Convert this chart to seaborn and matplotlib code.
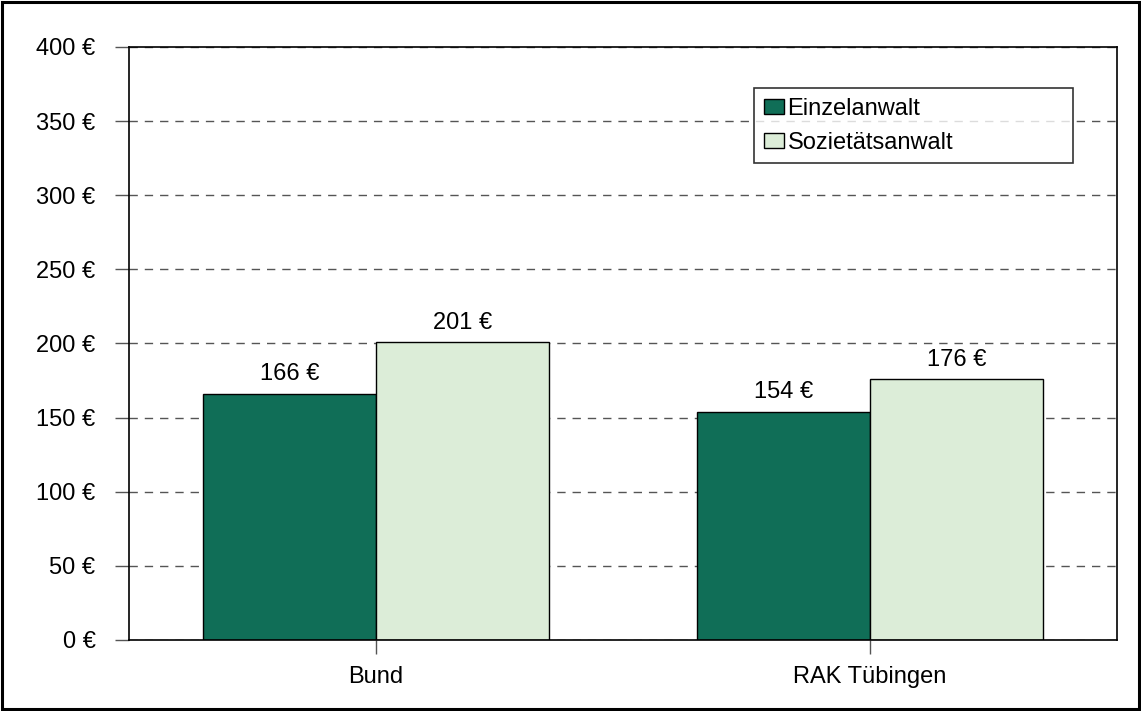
import matplotlib
matplotlib.use("Agg")
import matplotlib.pyplot as plt
import seaborn as sns
import pandas as pd
from matplotlib.ticker import FuncFormatter, MultipleLocator
from matplotlib.patches import Rectangle

categories = ["Bund", "RAK Tübingen"]
series_names = ["Einzelanwalt", "Sozietätsanwalt"]
einzel = [166, 154]
sozietaet = [201, 176]

rows = []
for c, v in zip(categories, einzel):
    rows.append({"Region": c, "Typ": series_names[0], "Wert": v})
for c, v in zip(categories, sozietaet):
    rows.append({"Region": c, "Typ": series_names[1], "Wert": v})
df = pd.DataFrame(rows)

sns.set_style("white")
plt.rcParams['font.family'] = ['Liberation Sans', 'DejaVu Sans']

fig = plt.figure(figsize=(11.41, 7.11), dpi=100)
ax = fig.add_axes([0.113, 0.100, 0.866, 0.834])

palette = {"Einzelanwalt": "#106E57", "Sozietätsanwalt": "#DCEDD8"}
sns.barplot(data=df, x="Region", y="Wert", hue="Typ", palette=palette,
            order=categories, hue_order=series_names, width=0.7,
            edgecolor="black", linewidth=1.0, ax=ax, saturation=1)

fs = 17
for cont in ax.containers:
    ax.bar_label(cont, labels=[f"{int(round(v))} €" for v in cont.datavalues],
                 padding=6, fontsize=fs, color="black")

ax.set_ylim(0, 400)
ax.set_xlim(-0.5, 1.5)
ax.yaxis.set_major_locator(MultipleLocator(50))
ax.yaxis.set_major_formatter(FuncFormatter(lambda v, p: f"{int(v)} €"))
ax.set_xlabel("")
ax.set_ylabel("")
ax.grid(axis="y", linestyle=(0, (6, 5)), color="#555555", linewidth=1.0)
ax.set_axisbelow(True)
for s in ax.spines.values():
    s.set_visible(True)
    s.set_color("black")
    s.set_linewidth(1.2)
ax.tick_params(axis="y", which="major", direction="out", length=10, width=1,
               color="#555555", left=True, labelsize=fs, pad=14, labelcolor="black")
ax.tick_params(axis="x", which="major", direction="out", length=10, width=1,
               color="#555555", bottom=True, labelsize=fs, pad=9, labelcolor="black")

leg = ax.legend(loc="upper left", bbox_to_anchor=(0.633, 0.81, 0.322, 0.12),
                mode="expand", frameon=True,
                fancybox=False, fontsize=fs, handlelength=0.85, handleheight=0.6,
                handletextpad=0.15, borderpad=0.4, labelspacing=0.5,
                borderaxespad=0)
for t in leg.get_texts():
    t.set_color("black")
leg.get_frame().set_edgecolor("black")
leg.get_frame().set_linewidth(1.2)
leg.get_frame().set_facecolor("white")

fig.patches.append(Rectangle((0.002, 0.003), 0.996, 0.994, transform=fig.transFigure,
                             fill=False, edgecolor="black", linewidth=2.2))

fig.savefig("out.png", dpi=100)
